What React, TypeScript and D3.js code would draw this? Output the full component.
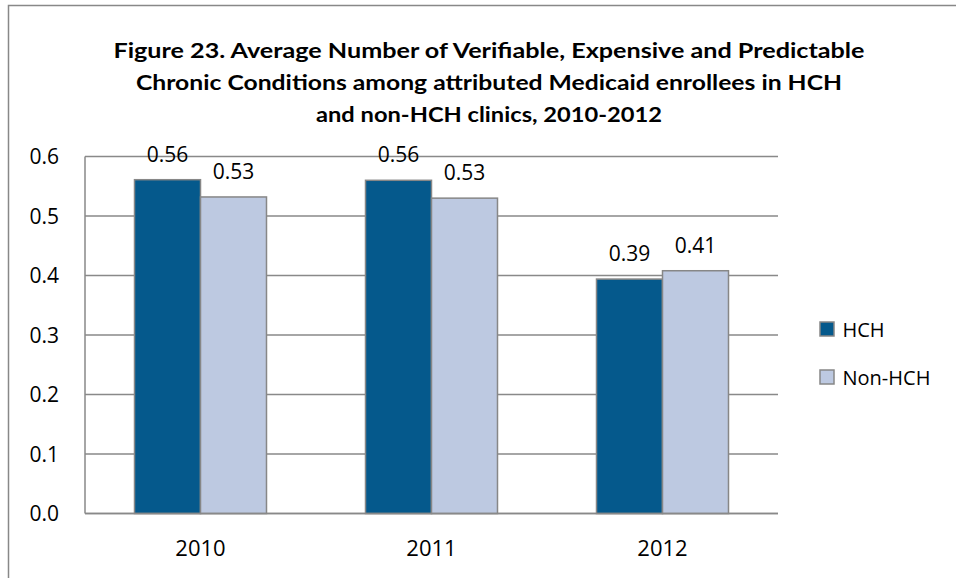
import React from "react";
import * as d3 from "d3";

const titleLines = [
  "Figure 23. Average Number of Verifiable, Expensive and Predictable",
  "Chronic Conditions among attributed Medicaid enrollees in HCH",
  "and non-HCH clinics, 2010-2012",
];
const titleWidths = [751, 706, 346];
const years = ["2010", "2011", "2012"];
const seriesNames = ["HCH", "Non-HCH"];
const hchValues = [0.561, 0.56, 0.394];
const nonHchValues = [0.532, 0.53, 0.408];
const hchLabels = ["0.56", "0.56", "0.39"];
const nonHchLabels = ["0.53", "0.53", "0.41"];
const yTicks = [0, 0.1, 0.2, 0.3, 0.4, 0.5, 0.6];
const colors = ["#05598C", "#BDC9E1"];

const W = 956;
const H = 578;
const plot = { left: 85, right: 778, top: 156.5, bottom: 513.5 };
const gridColor = "#898989";
const font = "'Open Sans', sans-serif";

export default function App() {
  const x = d3.scaleBand<string>().domain(years).range([plot.left, plot.right]).padding(0);
  const inner = d3
    .scaleBand<string>()
    .domain(seriesNames)
    .range([0, x.bandwidth()])
    .paddingInner(0)
    .paddingOuter(0.75);
  const y = d3.scaleLinear().domain([0, 0.6]).range([plot.bottom, plot.top]);
  const series = [
    { name: seriesNames[0], values: hchValues, labels: hchLabels, color: colors[0] },
    { name: seriesNames[1], values: nonHchValues, labels: nonHchLabels, color: colors[1] },
  ];

  return (
    <svg
      width={W}
      height={H}
      style={{ position: "absolute", left: 0, top: 0, background: "#fff" }}
    >
      <rect x={0} y={0} width={W} height={H} fill="#fff" />
      {/* outer frame */}
      <rect x={8.5} y={5.5} width={W + 20} height={H + 20} fill="none" stroke="#888" strokeWidth={1.5} />
      {/* title */}
      {titleLines.map((t, i) => (
        <text
          key={i}
          x={489}
          y={58 + i * 32}
          textAnchor="middle"
          fontFamily="Lato, 'Open Sans', sans-serif"
          fontWeight="bold"
          fontSize={21.5}
          fill="#000"
          textLength={titleWidths[i]}
          lengthAdjust="spacingAndGlyphs"
        >
          {t}
        </text>
      ))}
      {/* gridlines */}
      {yTicks.map((t) => (
        <line
          key={t}
          x1={plot.left}
          x2={plot.right}
          y1={y(t)}
          y2={y(t)}
          stroke={gridColor}
          strokeWidth={1.5}
        />
      ))}
      {/* y axis line */}
      <line x1={plot.left} x2={plot.left} y1={plot.top} y2={plot.bottom} stroke={gridColor} strokeWidth={1.5} />
      {/* y tick labels */}
      {yTicks.map((t) => (
        <text
          key={"l" + t}
          x={59}
          y={y(t)}
          dy="0.36em"
          textAnchor="end"
          fontFamily={font}
          fontSize={21}
          fill="#000"
        >
          {d3.format(".1f")(t)}
        </text>
      ))}
      {/* bars */}
      {years.map((yr, i) => (
        <g key={yr} transform={`translate(${x(yr)},0)`}>
          {series.map((s) => {
            const bx = inner(s.name)!;
            const v = s.values[i];
            return (
              <g key={s.name}>
                <rect
                  x={bx}
                  y={y(v)}
                  width={inner.bandwidth()}
                  height={plot.bottom - y(v)}
                  fill={s.color}
                  stroke="#878787"
                  strokeWidth={1.5}
                />
                <text
                  x={bx + inner.bandwidth() / 2}
                  y={y(v) - 18}
                  textAnchor="middle"
                  fontFamily={font}
                  fontSize={21}
                  fill="#000"
                >
                  {s.labels[i]}
                </text>
              </g>
            );
          })}
        </g>
      ))}
      {/* x axis baseline on top */}
      <line x1={plot.left} x2={plot.right} y1={plot.bottom} y2={plot.bottom} stroke={gridColor} strokeWidth={1.5} />
      {/* x labels */}
      {years.map((yr) => (
        <text
          key={"x" + yr}
          x={x(yr)! + x.bandwidth() / 2}
          y={556}
          textAnchor="middle"
          fontFamily={font}
          fontSize={22}
          fill="#000"
        >
          {yr}
        </text>
      ))}
      {/* legend */}
      {series.map((s, i) => (
        <g key={"lg" + s.name} transform={`translate(820,${322 + i * 48})`}>
          <rect x={0} y={0} width={14} height={14} fill={s.color} stroke="#878787" strokeWidth={1.5} />
          <text x={22.5} y={14.5} fontFamily={font} fontSize={20} fill="#000">
            {s.name}
          </text>
        </g>
      ))}
    </svg>
  );
}
